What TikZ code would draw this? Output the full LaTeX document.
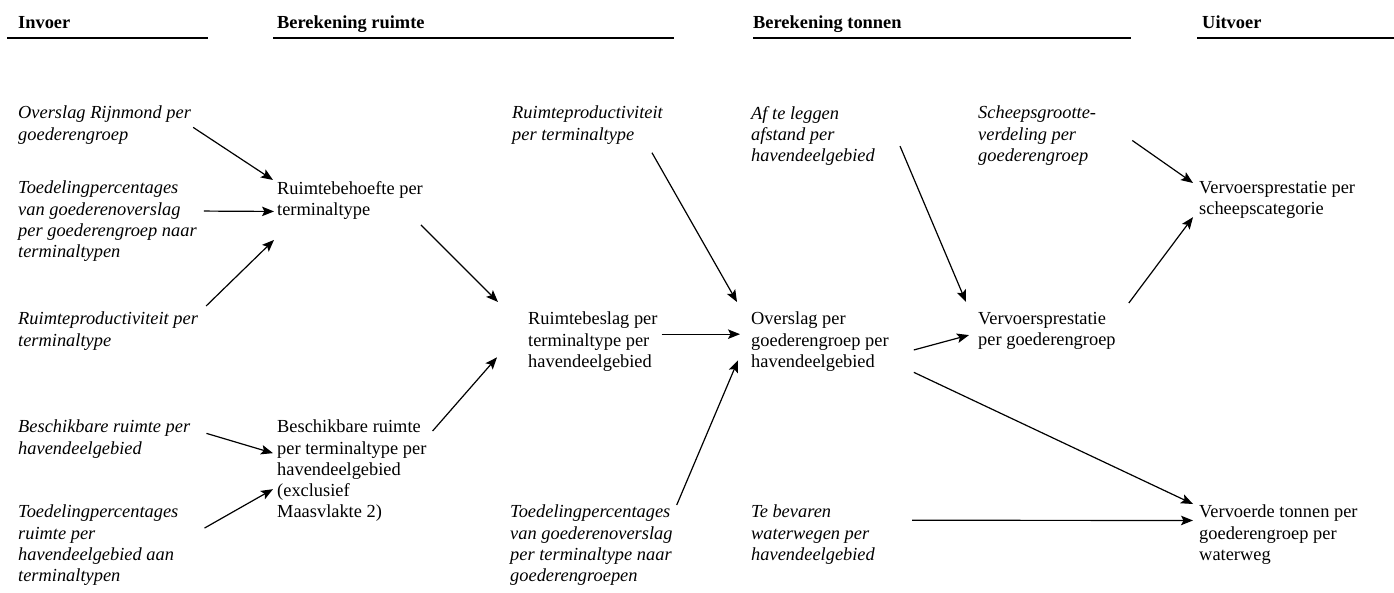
\documentclass[tikz,border=0pt]{standalone}
\usepackage{fontspec}
\setmainfont{Liberation Serif}
\usepackage{tikz}
\usetikzlibrary{arrows.meta}
\tikzset{
  basetext/.style={
    anchor=north west, inner sep=0pt, align=left,
    font=\fontsize{18.4}{21.2}\selectfont,
    execute at begin node=\strut
  },
  inputtext/.style={basetext, font=\fontsize{18.4}{21.2}\selectfont\itshape},
  calctext/.style={basetext},
  headtext/.style={
    anchor=base west, inner sep=0pt,
    font=\fontsize{18.4}{21.2}\selectfont\bfseries
  },
  headrule/.style={line width=1.5pt},
  flowarrow/.style={
    -{Stealth[length=12pt, width=9.5pt, inset=2.5pt]}, line width=1.2pt
  },
}

\begin{document}
\begin{tikzpicture}[x=1pt, y=-1pt]
  \useasboundingbox (0,0) rectangle (1394,592);

  % Kolomkoppen
  \node[headtext] (hin) at (18,28) {Invoer};
  \node[headtext] (hbr) at (277,28) {Berekening ruimte};
  \node[headtext] (hbt) at (753,28) {Berekening tonnen};
  \node[headtext] (hut) at (1202,28) {Uitvoer};
  \draw[headrule] (7,38) -- (208,38);
  \draw[headrule] (273,38) -- (674,38);
  \draw[headrule] (753,38) -- (1131,38);
  \draw[headrule] (1197,38) -- (1394,38);

  % Invoer
  \node[inputtext] (ovr) at (18,106) {Overslag Rijnmond per\\goederengroep};
  \node[inputtext] (tdg) at (18,181) {Toedelingpercentages\\van goederenoverslag\\per goederengroep naar\\terminaltypen};
  \node[inputtext] (rpr) at (18,312) {Ruimteproductiviteit per\\terminaltype};
  \node[inputtext] (bsr) at (18,420) {Beschikbare ruimte per\\havendeelgebied};
  \node[inputtext] (tdr) at (18,505) {Toedelingpercentages\\ruimte per\\havendeelgebied aan\\terminaltypen};

  % Berekening ruimte
  \node[calctext] (rb) at (277,181) {Ruimtebehoefte per\\terminaltype};
  \node[calctext] (bsc) at (277,420) {Beschikbare ruimte\\per terminaltype per\\havendeelgebied\\(exclusief\\Maasvlakte 2)};
  \node[inputtext] (rpt) at (512,106) {Ruimteproductiviteit\\per terminaltype};
  \node[calctext] (rbs) at (528,312) {Ruimtebeslag per\\terminaltype per\\havendeelgebied};
  \node[inputtext] (tdt) at (510,505) {Toedelingpercentages\\van goederenoverslag\\per terminaltype naar\\goederengroepen};

  % Berekening tonnen
  \node[inputtext] (afs) at (751,106) {Af te leggen\\afstand per\\havendeelgebied};
  \node[calctext] (ovs) at (751,312) {Overslag per\\goederengroep per\\havendeelgebied};
  \node[inputtext] (tbw) at (751,505) {Te bevaren\\waterwegen per\\havendeelgebied};
  \node[inputtext] (sgv) at (978,106) {Scheepsgrootte-\\verdeling per\\goederengroep};
  \node[calctext] (vpg) at (978,312) {Vervoersprestatie\\per goederengroep};

  % Uitvoer
  \node[calctext] (vps) at (1199,181) {Vervoersprestatie per\\scheepscategorie};
  \node[calctext] (vtn) at (1199,505) {Vervoerde tonnen per\\goederengroep per\\waterweg};

  % Pijlen
  \draw[flowarrow] ([shift={(2,1)}]ovr.east) -- ([shift={(-4,-1)}]rb.north west);
  \draw[flowarrow] ([shift={(7,-11.5)}]tdg.east) -- ([shift={(-3,10)}]rb.west);
  \draw[flowarrow] ([shift={(8,-6)}]rpr.north east) -- ([shift={(-3,18)}]rb.south west);
  \draw[flowarrow] ([shift={(-2,3)}]rb.south east) -- ([shift={(-30,-10)}]rbs.north west);
  \draw[flowarrow] ([shift={(16,-7)}]bsr.east) -- ([shift={(-4,-19)}]bsc.west);
  \draw[flowarrow] ([shift={(26,-18.5)}]tdr.east) -- ([shift={(-4,17)}]bsc.west);
  \draw[flowarrow] ([shift={(6,11)}]bsc.north east) -- ([shift={(-31,-16.6)}]rbs.south west);
  \draw[flowarrow] ([shift={(4,-8.8)}]rbs.east) -- ([shift={(-11,-8.8)}]ovs.west);
  \draw[flowarrow] ([shift={(-11,6)}]rpt.south east) -- ([shift={(-14,-10)}]ovs.north west);
  \draw[flowarrow] ([shift={(4,0)}]tdt.north east) -- ([shift={(-13,-13.6)}]ovs.south west);
  \draw[flowarrow] ([shift={(25,-22)}]afs.south east) -- ([shift={(-12,-10)}]vpg.north west);
  \draw[flowarrow] ([shift={(25,7)}]ovs.east) -- ([shift={(-9,3)}]vpg.west);
  \draw[flowarrow] ([shift={(36,3.5)}]sgv.east) -- ([shift={(-6,2)}]vps.north west);
  \draw[flowarrow] ([shift={(13,-9)}]vpg.north east) -- ([shift={(-6,-4)}]vps.south west);
  \draw[flowarrow] ([shift={(25,-1.6)}]ovs.south east) -- ([shift={(-6,-1)}]vtn.north west);
  \draw[flowarrow] ([shift={(37,-15.7)}]tbw.east) -- ([shift={(-6,-15.5)}]vtn.west);
\end{tikzpicture}
\end{document}
